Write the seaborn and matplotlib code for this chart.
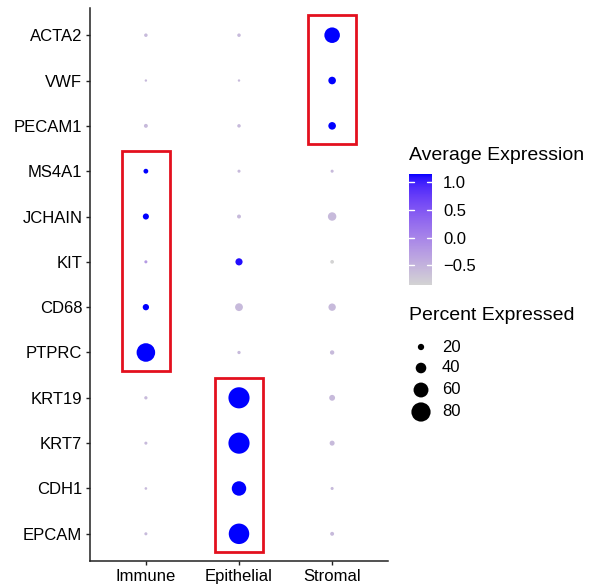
import numpy as np
import pandas as pd
import matplotlib
matplotlib.use("Agg")
import matplotlib.pyplot as plt
import seaborn as sns
from matplotlib.colors import ListedColormap, Normalize
from matplotlib.cm import ScalarMappable
from matplotlib.patches import Rectangle

# ---------------- data ----------------
genes = ["ACTA2", "VWF", "PECAM1", "MS4A1", "JCHAIN", "KIT", "CD68", "PTPRC",
         "KRT19", "KRT7", "CDH1", "EPCAM"]
groups = ["Immune", "Epithelial", "Stromal"]

# percent expressed per gene (rows) for Immune, Epithelial, Stromal
pct_immune = [7, 2, 9, 13, 19, 5, 20, 77, 6, 5, 3, 5]
pct_epithelial = [7, 2, 7, 5, 9, 24, 27, 6, 89, 89, 58, 86]
pct_stromal = [63, 26, 26, 5, 30, 8, 25, 11, 18, 14, 5, 9]

# scaled average expression
avg_immune = [-0.58, -0.58, -0.58, 1.15, 1.15, -0.24, 1.15, 1.15, -0.58, -0.58, -0.58, -0.58]
avg_epithelial = [-0.58, -0.58, -0.58, -0.58, -0.58, 1.10, -0.58, -0.58, 1.15, 1.15, 1.15, 1.15]
avg_stromal = [1.15, 1.15, 1.15, -0.58, -0.58, -0.86, -0.58, -0.58, -0.58, -0.58, -0.58, -0.58]

legend_pct = [20, 40, 60, 80]
cbar_ticks = [1.0, 0.5, 0.0, -0.5]

# highlighted boxes: (group, first gene, last gene)
boxes = [("Stromal", "ACTA2", "PECAM1"),
         ("Immune", "MS4A1", "PTPRC"),
         ("Epithelial", "KRT19", "EPCAM")]

# ---------------- helpers ----------------
def srgb_to_lab(rgb):
    rgb = np.asarray(rgb, float)
    lin = np.where(rgb <= 0.04045, rgb / 12.92, ((rgb + 0.055) / 1.055) ** 2.4)
    M = np.array([[0.4124564, 0.3575761, 0.1804375],
                  [0.2126729, 0.7151522, 0.0721750],
                  [0.0193339, 0.1191920, 0.9503041]])
    xyz = M @ lin
    wp = np.array([0.95047, 1.0, 1.08883])
    t = xyz / wp
    f = np.where(t > (6 / 29) ** 3, np.cbrt(t), t / (3 * (6 / 29) ** 2) + 4 / 29)
    return np.array([116 * f[1] - 16, 500 * (f[0] - f[1]), 200 * (f[1] - f[2])])

def lab_to_srgb(lab):
    L, a, b = lab
    fy = (L + 16) / 116
    fx = fy + a / 500
    fz = fy - b / 200
    def finv(f):
        return np.where(f > 6 / 29, f ** 3, 3 * (6 / 29) ** 2 * (f - 4 / 29))
    wp = np.array([0.95047, 1.0, 1.08883])
    xyz = np.array([finv(fx), finv(fy), finv(fz)]) * wp
    Minv = np.array([[3.2404542, -1.5371385, -0.4985314],
                     [-0.9692660, 1.8760108, 0.0415560],
                     [0.0556434, -0.2040259, 1.0572252]])
    lin = np.clip(Minv @ xyz, 0, 1)
    srgb = np.where(lin <= 0.0031308, 12.92 * lin, 1.055 * lin ** (1 / 2.4) - 0.055)
    return np.clip(srgb, 0, 1)

lo = srgb_to_lab([211 / 255, 211 / 255, 211 / 255])
hi = srgb_to_lab([0, 0, 1.0])
cols = [lab_to_srgb(lo + (hi - lo) * t) for t in np.linspace(0, 1, 256)]
cmap = ListedColormap(cols)

def pct_to_s(v):
    d_px = 2.0 + 0.215 * np.asarray(v, float)
    return (d_px * 0.72) ** 2

# ---------------- data frame ----------------
rows = []
for i, g in enumerate(genes):
    for grp, pl, al in zip(groups, [pct_immune, pct_epithelial, pct_stromal],
                           [avg_immune, avg_epithelial, avg_stromal]):
        rows.append({"gene": g, "group": grp, "pct": pl[i], "avg": al[i]})
df = pd.DataFrame(rows)
df["x"] = df["group"].map({g: i for i, g in enumerate(groups)})
df["y"] = df["gene"].map({g: i for i, g in enumerate(genes)})

all_avg = df["avg"].values
norm = Normalize(vmin=all_avg.min(), vmax=all_avg.max())
size_dict = {v: float(pct_to_s(v)) for v in sorted(df["pct"].unique())}

# ---------------- figure ----------------
sns.set_style("white")
plt.rcParams["font.family"] = ["Liberation Sans", "DejaVu Sans"]
plt.rcParams["text.color"] = "black"

W, H = 592, 587
fig = plt.figure(figsize=(W / 100, H / 100), dpi=100)
ax = fig.add_axes([90 / W, 1 - 561 / H, (388 - 90) / W, (561 - 8) / H])

sns.scatterplot(data=df, x="x", y="y", hue="avg", palette=cmap, hue_norm=norm,
                size="pct", sizes=size_dict, linewidth=0, legend=False, ax=ax)

ax.set_xlim(-0.6, len(groups) - 1 + 0.6)
ax.set_ylim(len(genes) - 1 + 0.6, -0.6)
ax.set_xticks(range(len(groups)))
ax.set_xticklabels(groups)
ax.set_yticks(range(len(genes)))
ax.set_yticklabels(genes)
ax.set_xlabel("")
ax.set_ylabel("")
for side in ["top", "right"]:
    ax.spines[side].set_visible(False)
for side in ["left", "bottom"]:
    ax.spines[side].set_color("#222222")
    ax.spines[side].set_linewidth(1.1)
ax.tick_params(axis="both", which="major", length=3, width=1.0, color="#222222",
               labelsize=12, labelcolor="black", pad=2.5, direction="out",
               bottom=True, left=True)

# highlight boxes
for grp, g0, g1 in boxes:
    xi = groups.index(grp)
    y0 = genes.index(g0)
    y1 = genes.index(g1)
    rect = Rectangle((xi - 0.255, y0 - 0.44), 0.51, (y1 - y0) + 0.84,
                     fill=False, edgecolor="#E3101E", linewidth=2.0, zorder=5,
                     clip_on=False)
    ax.add_patch(rect)

# ---------------- legends ----------------
# colour bar
cax = fig.add_axes([409 / W, 1 - 285 / H, 23 / W, (285 - 174) / H])
sm = ScalarMappable(norm=norm, cmap=cmap)
cb = fig.colorbar(sm, cax=cax)
cb.outline.set_visible(False)
cb.set_ticks(cbar_ticks)
cb.set_ticklabels([f"{t:.1f}".replace("-", "\u2212") for t in cbar_ticks])
cax.tick_params(length=0, labelsize=12, pad=8, labelcolor="black")
for t in cbar_ticks:
    cax.plot([0, 0.2], [t, t], color="white", lw=1.0, transform=cax.get_yaxis_transform())
    cax.plot([0.8, 1.0], [t, t], color="white", lw=1.0, transform=cax.get_yaxis_transform())

# overlay axes for legend text and size keys (pixel coordinates)
lax = fig.add_axes([0, 0, 1, 1], facecolor="none")
lax.set_xlim(0, W)
lax.set_ylim(H, 0)
lax.axis("off")
lax.text(409, 156, "Average Expression", fontsize=14, ha="left", va="center", color="black")
lax.text(409, 316, "Percent Expressed", fontsize=14, ha="left", va="center", color="black")
key_y = [347, 368, 390, 412]
lax.scatter([421] * len(legend_pct), key_y, s=pct_to_s(legend_pct), color="black",
            linewidth=0)
for v, yy in zip(legend_pct, key_y):
    lax.text(442, yy, str(v), fontsize=12, ha="left", va="center", color="black")

fig.savefig("out.png", dpi=100)
